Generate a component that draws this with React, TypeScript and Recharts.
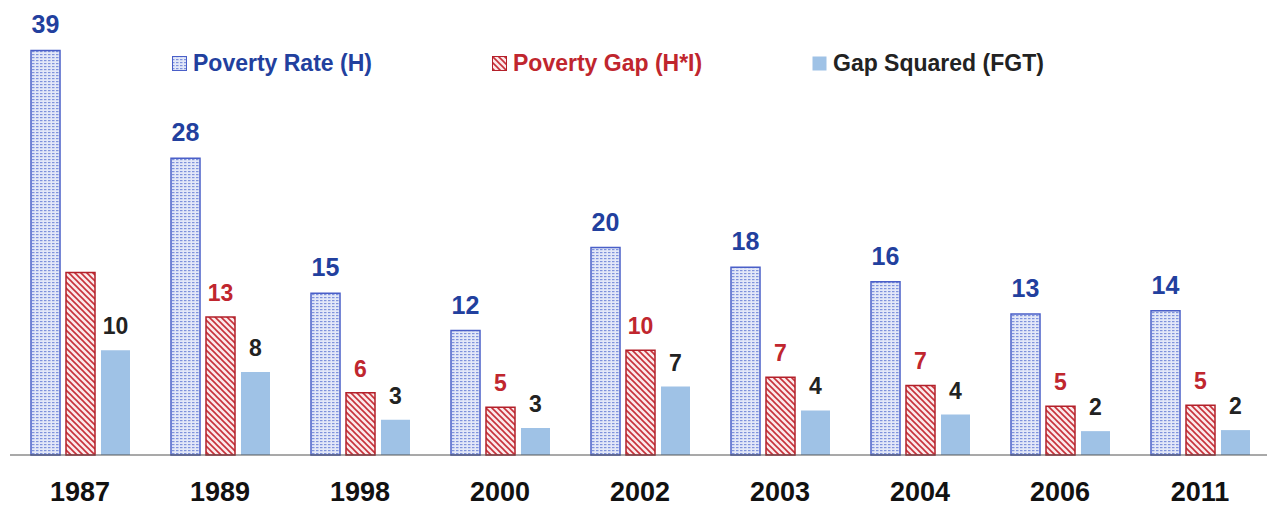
import React from 'react';
import { BarChart, Bar, XAxis, YAxis, LabelList } from 'recharts';

const years = ['1987', '1989', '1998', '2000', '2002', '2003', '2004', '2006', '2011'];
const povertyRate = [39, 28.6, 15.6, 12, 20, 18.1, 16.7, 13.6, 13.9];
const povertyGap = [17.6, 13.3, 6, 4.6, 10.1, 7.5, 6.7, 4.7, 4.8];
const gapSquared = [10.1, 8, 3.4, 2.6, 6.6, 4.3, 3.9, 2.3, 2.4];
const rateLabels = ['39', '28', '15', '12', '20', '18', '16', '13', '14'];
const gapLabels = ['', '13', '6', '5', '10', '7', '7', '5', '5'];
const sqLabels = ['10', '8', '3', '3', '7', '4', '4', '2', '2'];

const data = years.map((y, i) => ({
  year: y,
  rate: povertyRate[i],
  gap: povertyGap[i],
  sq: gapSquared[i],
  rateLabel: rateLabels[i],
  gapLabel: gapLabels[i],
  sqLabel: sqLabels[i],
}));

const FONT = '"Liberation Sans", Arial, sans-serif';
const BLUE = '#22409e';
const RED = '#c0262e';
const SQ = '#9fc2e6';

const legendItems = [
  { name: 'Poverty Rate (H)', fill: 'url(#ratePat)', stroke: '#4a5fc8', color: BLUE },
  { name: 'Poverty Gap (H*I)', fill: 'url(#gapPat)', stroke: '#b3202a', color: RED },
  { name: 'Gap Squared (FGT)', fill: SQ, stroke: 'none', color: '#222' },
];

// legend drawn as an overlay so it takes no room from the plot
const LegendBox = () => (
  <div style={{ position: 'absolute', left: 172, top: 50, display: 'flex', fontFamily: FONT, fontWeight: 700, fontSize: 23 }}>
    {legendItems.map((it) => (
      <div key={it.name} style={{ width: 320, display: 'flex', alignItems: 'center' }}>
        <svg width={15} height={15} style={{ marginRight: 6 }}>
          <rect x={0.5} y={0.5} width={14} height={14} fill={it.fill} stroke={it.stroke} />
        </svg>
        <span style={{ color: it.color }}>{it.name}</span>
      </div>
    ))}
  </div>
);

export default function App() {
  return (
    <div style={{ position: 'absolute', left: 0, top: 0, width: 1267, height: 514, background: '#fff', overflow: 'hidden' }}>
      <svg width={0} height={0} style={{ position: 'absolute' }}>
        <defs>
          <pattern id="ratePat" width={4} height={3} patternUnits="userSpaceOnUse">
            <rect width={4} height={3} fill="#e3e8f8" />
            <rect x={0} y={0} width={2.5} height={1.2} fill="#7f93dc" />
          </pattern>
          <pattern id="gapPat" width={6} height={6} patternUnits="userSpaceOnUse">
            <rect width={6} height={6} fill="#fbe9ea" />
            <path d="M0,0 L6,6 M-1,5 L1,7 M5,-1 L7,1" stroke="#c7313a" strokeWidth={1.6} />
          </pattern>
        </defs>
      </svg>
      <BarChart
        width={1267}
        height={514}
        data={data}
        margin={{ top: 40, right: -3, bottom: 0, left: 10 }}
        barGap={6}
        barSize={29}
      >
        <XAxis
          dataKey="year"
          tickLine={false}
          axisLine={{ stroke: '#555', strokeWidth: 1.2 }}
          height={59}
          tick={{ fontFamily: FONT, fontWeight: 700, fontSize: 27, fill: '#111' }}
          tickMargin={21}
        />
        <YAxis hide domain={[0, 40]} />
        <Bar dataKey="rate" fill="url(#ratePat)" stroke="#4a5fc8" strokeWidth={1.5} isAnimationActive={false}>
          <LabelList dataKey="rateLabel" position="top" offset={17} style={{ fontFamily: FONT, fontWeight: 700, fontSize: 25, fill: BLUE }} />
        </Bar>
        <Bar dataKey="gap" fill="url(#gapPat)" stroke="#b3202a" strokeWidth={1.5} isAnimationActive={false}>
          <LabelList dataKey="gapLabel" position="top" offset={16} style={{ fontFamily: FONT, fontWeight: 700, fontSize: 23, fill: RED }} />
        </Bar>
        <Bar dataKey="sq" fill={SQ} isAnimationActive={false}>
          <LabelList dataKey="sqLabel" position="top" offset={16} style={{ fontFamily: FONT, fontWeight: 700, fontSize: 23, fill: '#222' }} />
        </Bar>
      </BarChart>
      <LegendBox />
    </div>
  );
}
